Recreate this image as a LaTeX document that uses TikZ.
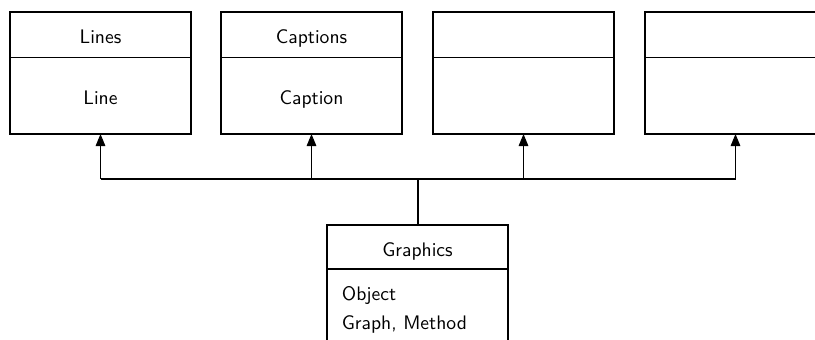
\documentclass[tikz,border=0pt]{standalone}
\usetikzlibrary{arrows.meta}
\begin{document}
\begin{tikzpicture}[x=0.5pt,y=-0.5pt,
  font=\sffamily\fontsize{9.8pt}{11.8pt}\selectfont,
  box/.style={draw, line width=0.55pt, minimum width=90.5pt, inner sep=0pt, outer sep=0pt, anchor=north west, text height=8.5pt, text depth=0pt},
  head/.style={box, minimum height=22.8pt},
  body/.style={box, minimum height=38.2pt},
  ghead/.style={box, minimum height=22pt, text height=9.5pt},
  gbody/.style={box, minimum height=45pt},
  txt/.style={anchor=base west, inner sep=0pt},
  conn/.style={line width=0.55pt},
  thickconn/.style={line width=1pt},
  arr/.style={line width=0.55pt, -{Triangle[length=6pt,width=4.8pt]}}]
\useasboundingbox (0,0) rectangle (815,339);
\clip (0,0) rectangle (815,339);
\node[head] (h1) at (10,12) {Lines};
\node[body] (b1) at (h1.south west) {Line};
\node[head] (h2) at (221,12) {Captions};
\node[body] (b2) at (h2.south west) {Caption};
\node[head] (h3) at (433,12) {};
\node[body] (b3) at (h3.south west) {};
\node[head] (h4) at (645,12) {};
\node[body] (b4) at (h4.south west) {};
\node[ghead] (gh) at (327,225) {Graphics};
\node[gbody] (gb) at (gh.south west) {};
\node[txt] (o1) at (341.5,300) {Object};
\node[txt] (o2) at (341.5,329) {Graph, Method};
\coordinate (lev) at (0,179);
\draw[conn] (b1.south |- lev) -- (b4.south |- lev);
\draw[thickconn] (gh.north) -- (gh.north |- lev);
\foreach \b in {b1,b2,b3,b4} \draw[arr] (\b.south |- lev) -- (\b.south);
\end{tikzpicture}
\end{document}
